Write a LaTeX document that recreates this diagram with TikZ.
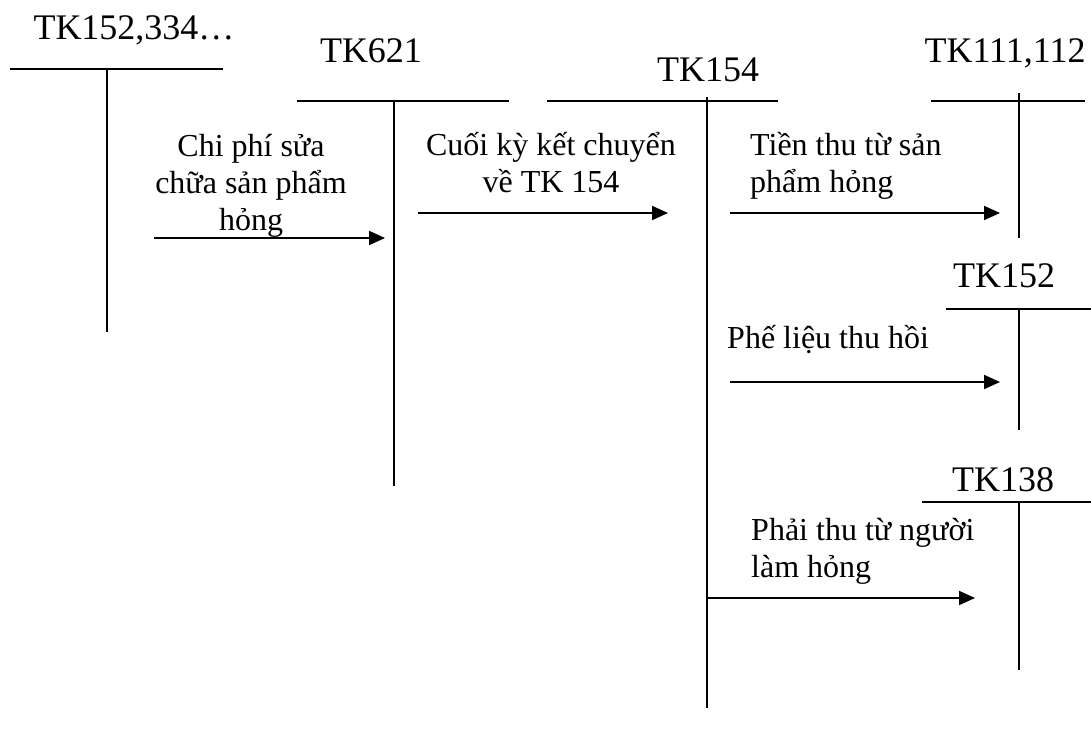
\documentclass[tikz,border=0pt]{standalone}
\usepackage{fontspec}
\setmainfont{Liberation Serif}
\usetikzlibrary{arrows.meta}

\begin{document}
\begin{tikzpicture}[x=1pt, y=-1pt,
  rule/.style={line width=1.9pt},
  flow/.style={line width=1.9pt, -{Triangle[length=16pt,width=14pt]}},
  acct/.style={inner sep=0pt, anchor=base, font=\fontsize{36}{40}\selectfont},
  note/.style={inner sep=0pt, anchor=base, font=\fontsize{32}{37}\selectfont},
]
\useasboundingbox (0,0) rectangle (1091,738);

% account titles
\node[acct] (t1) at (134,40) {TK152,334…};
\node[acct] (t2) at (371,63) {TK621};
\node[acct] (t3) at (708,82) {TK154};
\node[acct] (t4) at (1005,63) {TK111,112};
\node[acct] (t5) at (1004,287) {TK152};
\node[acct] (t6) at (1003,491) {TK138};

% T-account bars
\coordinate (a1l) at (10,69);   \coordinate (a1r) at (223,69);
\coordinate (a1t) at (107,69);  \coordinate (a1b) at (107,332);
\coordinate (a2l) at (297,101); \coordinate (a2r) at (509,101);
\coordinate (a2t) at (394,101); \coordinate (a2b) at (394,486);
\coordinate (a3l) at (547,101); \coordinate (a3r) at (778,101);
\coordinate (a3t) at (707,97);  \coordinate (a3b) at (707,708);
\coordinate (a4l) at (931,101); \coordinate (a4r) at (1085,101);
\coordinate (a4t) at (1019,93); \coordinate (a4b) at (1019,238);
\coordinate (a5l) at (946,309); \coordinate (a5r) at (1091,309);
\coordinate (a5t) at (1019,309);\coordinate (a5b) at (1019,430);
\coordinate (a6l) at (922,502); \coordinate (a6r) at (1091,502);
\coordinate (a6t) at (1019,502);\coordinate (a6b) at (1019,670);

\foreach \k in {1,...,6}{
  \draw[rule] (a\k l) -- (a\k r);
  \draw[rule] (a\k t) -- (a\k b);
}

% entries
\coordinate (f1s) at (154,238); \coordinate (f1e) at (385,238);
\coordinate (f2s) at (418,213); \coordinate (f2e) at (668,213);
\coordinate (f3s) at (730,213); \coordinate (f3e) at (1000,213);
\coordinate (f4s) at (730,382); \coordinate (f4e) at (1000,382);
\coordinate (f5s) at (707,598); \coordinate (f5e) at (975,598);
\foreach \k in {1,...,5}{
  \draw[flow] (f\k s) -- (f\k e);
}

% entry labels (anchored on the baseline of their last line)
\node[note, align=center] (n1) at (251,230) {Chi phí sửa\\chữa sản phẩm\\hỏng};
\node[note, align=center] (n2) at (551,193) {Cuối kỳ kết chuyển\\về TK 154};
\node[note, align=left, anchor=base west] (n3) at (750,193) {Tiền thu từ sản\\phẩm hỏng};
\node[note, anchor=base west] (n4) at (727,348) {Phế liệu thu hồi};
\node[note, align=left, anchor=base west] (n5) at (751,577) {Phải thu từ người\\làm hỏng};
\end{tikzpicture}
\end{document}
